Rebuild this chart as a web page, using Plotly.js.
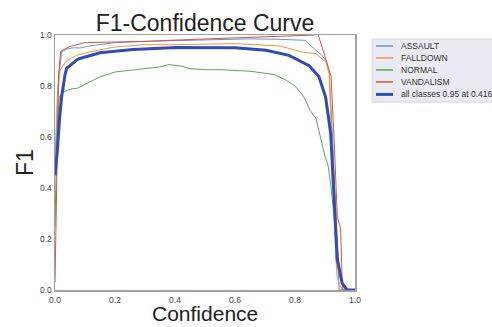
<!DOCTYPE html>
<html><head><meta charset="utf-8">
<script src="https://cdn.plot.ly/plotly-3.0.1.min.js"></script>
<style>html,body{margin:0;padding:0;background:#fff;}</style>
</head><body><div id="chart" style="width:492px;height:327px;"></div>
<script>
const assaultX = [0, 0.01, 0.022, 0.04, 0.061, 0.083, 0.12, 0.2, 0.3, 0.4, 0.5, 0.65, 0.75, 0.825, 0.836, 0.85, 0.87, 0.89, 0.903, 0.914, 0.925, 0.935, 0.942, 0.947, 0.96, 1.0];
const assaultY = [0.5, 0.8, 0.934, 0.945, 0.95, 0.949, 0.958, 0.97, 0.975, 0.978, 0.982, 0.985, 0.983, 0.979, 0.979, 0.96, 0.94, 0.92, 0.9, 0.85, 0.6, 0.3, 0.1, 0, 0, 0];
const falldownX = [0, 0.008, 0.017, 0.03, 0.039, 0.072, 0.12, 0.2, 0.3, 0.4, 0.5, 0.6, 0.7, 0.75, 0.825, 0.87, 0.903, 0.914, 0.925, 0.936, 0.941, 0.952, 0.956, 1.0];
const falldownY = [0.45, 0.75, 0.862, 0.885, 0.9, 0.92, 0.935, 0.953, 0.962, 0.962, 0.965, 0.966, 0.96, 0.957, 0.933, 0.927, 0.894, 0.85, 0.48, 0.12, 0.047, 0.01, 0, 0];
const normalX = [0, 0.006, 0.014, 0.028, 0.045, 0.061, 0.072, 0.09, 0.105, 0.15, 0.2, 0.25, 0.3, 0.35, 0.38, 0.42, 0.45, 0.5, 0.55, 0.6, 0.65, 0.7, 0.73, 0.77, 0.8, 0.83, 0.85, 0.87, 0.88, 0.89, 0.9, 0.91, 0.92, 0.93, 0.94, 0.95, 0.96, 0.97, 1.0];
const normalY = [0.25, 0.6, 0.757, 0.777, 0.785, 0.79, 0.79, 0.8, 0.81, 0.836, 0.855, 0.862, 0.868, 0.875, 0.884, 0.878, 0.868, 0.864, 0.864, 0.861, 0.858, 0.85, 0.845, 0.823, 0.8, 0.757, 0.705, 0.673, 0.62, 0.575, 0.523, 0.49, 0.405, 0.288, 0.17, 0.066, 0.01, 0, 0];
const vandalismX = [0, 0.006, 0.012, 0.019, 0.05, 0.1, 0.2, 0.3, 0.4, 0.5, 0.6, 0.7, 0.8, 0.864, 0.875, 0.897, 0.914, 0.92, 0.93, 0.941, 0.952, 0.958, 1.0];
const vandalismY = [0.03, 0.5, 0.85, 0.937, 0.955, 0.97, 0.972, 0.975, 0.98, 0.985, 0.99, 0.993, 0.997, 1.0, 1.01, 0.927, 0.855, 0.84, 0.6, 0.288, 0.24, 0, 0];
const allX = [0, 0.008, 0.015, 0.022, 0.033, 0.039, 0.05, 0.072, 0.083, 0.15, 0.26, 0.404, 0.6, 0.703, 0.78, 0.847, 0.88, 0.902, 0.919, 0.93, 0.941, 0.957, 0.974, 1.0];
const allY = [0.45, 0.549, 0.67, 0.757, 0.842, 0.87, 0.88, 0.902, 0.908, 0.93, 0.943, 0.951, 0.95, 0.94, 0.92, 0.88, 0.836, 0.757, 0.614, 0.353, 0.119, 0.027, 0, 0];
const names = ['ASSAULT', 'FALLDOWN', 'NORMAL', 'VANDALISM', 'all classes 0.95 at 0.416'];
const xTicks = [0, 0.2, 0.4, 0.6, 0.8, 1.0];
const yTicks = [0, 0.2, 0.4, 0.6, 0.8, 1.0];

const colors = ['#5b9bd5', '#f5923e', '#5aa84c', '#e0503a', '#2f4db5'];
const widths = [1, 1, 1, 1, 3];
const xs = [assaultX, falldownX, normalX, vandalismX, allX];
const ys = [assaultY, falldownY, normalY, vandalismY, allY];
const traces = xs.map((x, i) => ({
  x: x, y: ys[i], name: names[i], type: 'scatter', mode: 'lines', showlegend: false,
  line: {color: colors[i], width: widths[i]}
}));

// compact legend drawn as shapes + annotations (paper coordinates)
const legRowY = [0.957, 0.910, 0.863, 0.816, 0.767];
const shapes = [{type: 'rect', xref: 'paper', yref: 'paper', x0: 1.057, x1: 1.5, y0: 0.737, y1: 0.984,
  fillcolor: '#eaeaf2', line: {color: '#d6d6de', width: 1}, layer: 'above'}];
const annotations = [];
names.forEach((n, i) => {
  shapes.push({type: 'line', xref: 'paper', yref: 'paper', x0: 1.07, x1: 1.127, y0: legRowY[i], y1: legRowY[i],
    line: {color: colors[i], width: i === 4 ? 3 : 1.5}, layer: 'above'});
  annotations.push({xref: 'paper', yref: 'paper', x: 1.147, y: legRowY[i], xanchor: 'left', yanchor: 'middle',
    text: n, showarrow: false, font: {size: 8.5, color: '#333'}});
});
// x-axis title placed as an annotation so it sits just below the tick labels
annotations.push({xref: 'paper', yref: 'paper', x: 0.5, y: -0.093, xanchor: 'center', yanchor: 'middle',
  text: 'Confidence', showarrow: false, font: {size: 21, color: '#222'}});

const font = 'Liberation Sans, Arial, sans-serif';
const layout = {
  width: 492, height: 327,
  margin: {l: 55, r: 137, t: 35, b: 37},
  paper_bgcolor: '#fff', plot_bgcolor: '#fff',
  font: {family: font, color: '#333', size: 9},
  title: {text: 'F1-Confidence Curve', font: {size: 23, color: '#222', family: font}, x: 0.5, xref: 'paper', y: 0.93, yref: 'container', xanchor: 'center', yanchor: 'middle'},
  xaxis: {range: [0, 1], tickvals: xTicks, ticktext: xTicks.map(v => v.toFixed(1)), showgrid: false, zeroline: false,
    showline: true, mirror: true, linecolor: '#a0a0a0', linewidth: 1.5, ticks: '', tickfont: {size: 8.5, color: '#444'},
    ticklabelstandoff: 1},
  yaxis: {range: [0, 1], tickvals: yTicks, ticktext: yTicks.map(v => v.toFixed(1)), showgrid: false, zeroline: false,
    showline: true, mirror: true, linecolor: '#a0a0a0', linewidth: 1.5, ticks: '', tickfont: {size: 8.5, color: '#444'},
    title: {text: 'F1', font: {size: 23, color: '#222'}, standoff: 0}},
  showlegend: false,
  shapes: shapes,
  annotations: annotations
};
Plotly.newPlot('chart', traces, layout, {displayModeBar: false, staticPlot: true});
</script></body></html>
